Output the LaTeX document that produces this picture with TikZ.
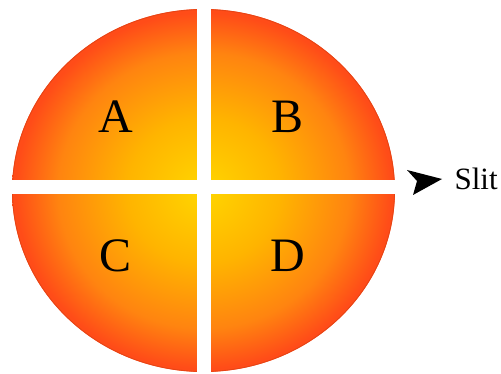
\documentclass[tikz,border=0pt]{standalone}
\usepackage{fontspec}
\setmainfont{Liberation Serif}
\usepackage{xcolor}

\definecolor{sunyellow}{RGB}{255,214,0}
\definecolor{sunamber}{RGB}{255,180,0}
\definecolor{sunorange}{RGB}{255,132,16}
\definecolor{sunred}{RGB}{255,76,24}
\pgfdeclareradialshading{sunshade}{\pgfpoint{0bp}{0bp}}{%
  color(0bp)=(sunyellow);
  color(10bp)=(sunamber);
  color(19bp)=(sunorange);
  color(24.5bp)=(sunred);
  color(25bp)=(sunred);
  color(50bp)=(sunred)}

\begin{document}
\begin{tikzpicture}[x=1pt, y=-1pt, every node/.style={font=\fontsize{48}{48}\selectfont}]
        \useasboundingbox (0,0) rectangle (501,374);

        \coordinate (ctr) at (203.5,190.5);

        \shade[shading=sunshade] (ctr) ellipse [x radius=191.5, y radius=181.5];
        \draw[sunred!90!black, line width=0.8pt] (ctr) ellipse [x radius=191, y radius=181];

        % slits
        \fill[white] (197,0) rectangle (211,374);
        \fill[white] (5,180) rectangle (398,194);

        \node (qa) at (116,117) {A};
        \node (qb) at (288,117) {B};
        \node (qc) at (116,256) {C};
        \node (qd) at (288,256) {D};

        \fill (407,170) -- (442,179) -- (413,195) -- (417,181) -- cycle;
        \node[anchor=west, font=\fontsize{31}{31}\selectfont] (slit) at (451,179) {Slit};
    \end{tikzpicture}
\end{document}
